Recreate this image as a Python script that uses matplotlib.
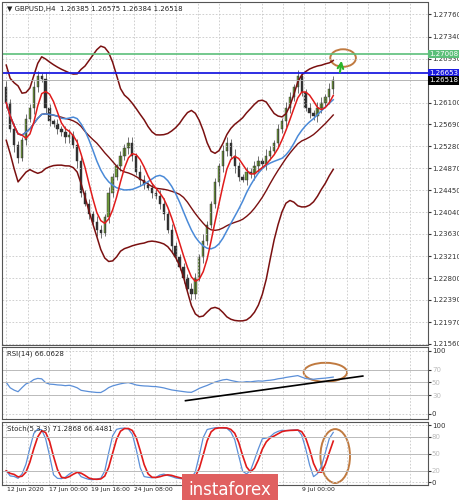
import numpy as np
import pandas as pd
import matplotlib
matplotlib.use("Agg")
import matplotlib.pyplot as plt
from matplotlib.patches import Ellipse, Rectangle

# GBPUSD H4 closes
closes = [1.2610, 1.2560, 1.2530, 1.2505, 1.2540, 1.2580, 1.2600, 1.2640, 1.2660, 1.2655,
          1.2600, 1.2575, 1.2570, 1.2560, 1.2555, 1.2545, 1.2550, 1.2530, 1.2500, 1.2440,
          1.2420, 1.2400, 1.2385, 1.2370, 1.2365, 1.2395, 1.2440, 1.2470, 1.2490, 1.2510,
          1.2525, 1.2535, 1.2510, 1.2480, 1.2465, 1.2455, 1.2450, 1.2440, 1.2435, 1.2420,
          1.2400, 1.2370, 1.2340, 1.2320, 1.2300, 1.2280, 1.2260, 1.2250, 1.2280, 1.2320,
          1.2350, 1.2380, 1.2420, 1.2460, 1.2490, 1.2520, 1.2535, 1.2510, 1.2490, 1.2470,
          1.2465, 1.2480, 1.2475, 1.2490, 1.2500, 1.2495, 1.2510, 1.2520, 1.2535, 1.2560,
          1.2575, 1.2600, 1.2620, 1.2640, 1.2660, 1.2630, 1.2600, 1.2590, 1.2585, 1.2600,
          1.2610, 1.2620, 1.2635, 1.2652]
first_open = 1.2640
wicks = [0.0010, 0.0006, 0.0012, 0.0008, 0.0005, 0.0009, 0.0007, 0.0011]

price_ticks = [1.27760, 1.27340, 1.26930, 1.26100, 1.25690, 1.25280, 1.24870, 1.24450,
               1.24040, 1.23630, 1.23210, 1.22800, 1.22390, 1.21970, 1.21560]
resistance = 1.27008
level = 1.26653
last_price = 1.26518
date_pos = [0.3, 10.8, 21.6, 32.4, 75]
date_labels = ["12 Jun 2020", "17 Jun 00:00", "19 Jun 16:00", "24 Jun 08:00", "9 Jul 00:00"]

c = pd.Series(closes)
o = pd.Series([first_open] + closes[:-1])
w = pd.Series([wicks[i % len(wicks)] for i in range(len(closes))])
hi = np.maximum(o, c) + w
lo = np.minimum(o, c) - w
x = np.arange(len(closes))

ma_fast = c.rolling(5, min_periods=1).mean()
ma_slow = c.rolling(14, min_periods=1).mean()
mid = c.rolling(20, min_periods=1).mean()
sd = c.rolling(20, min_periods=2).std().bfill()
upper = mid + 2 * sd
lower = mid - 2 * sd

d = c.diff().fillna(0)
up = d.clip(lower=0).ewm(alpha=1 / 30, adjust=False).mean() + 0.0004
dn = (-d.clip(upper=0)).ewm(alpha=1 / 30, adjust=False).mean() + 0.0004
rsi = 100 - 100 / (1 + up / dn)
ll = lo.rolling(5, min_periods=1).min()
hh = hi.rolling(5, min_periods=1).max()
k = 100 * (c - ll).rolling(3, min_periods=1).sum() / (hh - ll).rolling(3, min_periods=1).sum()
dline = k.rolling(3, min_periods=1).mean()

XMAX = 107
FS = 5
fig = plt.figure(figsize=(4.6, 5.0), dpi=100)
ax = fig.add_axes([0.005, 0.31, 0.925, 0.685])
ax2 = fig.add_axes([0.005, 0.162, 0.925, 0.144])
ax3 = fig.add_axes([0.005, 0.03, 0.925, 0.126])
vgrid = np.arange(0, XMAX, 5.4)

for a in (ax, ax2, ax3):
    a.set_xlim(-1, XMAX)
    a.set_xticks(vgrid)
    a.grid(True, color="#c8c8c8", linestyle=(0, (2, 2)), linewidth=0.6)
    a.yaxis.tick_right()
    a.tick_params(labelsize=FS, length=2, pad=1, colors="#333")
    a.tick_params(axis="x", labelbottom=False, length=0)
    for s in a.spines.values():
        s.set_color("#555")
        s.set_linewidth(0.8)

# candles
for i in x:
    col = "#6f9b3a" if c[i] >= o[i] else "#2e2e2e"
    ax.vlines(i, lo[i], hi[i], color="#3a3a3a", linewidth=0.5)
    ax.add_patch(Rectangle((i - 0.3, min(o[i], c[i])), 0.6, max(abs(c[i] - o[i]), 0.0002),
                           facecolor=col, edgecolor="#2e2e2e", linewidth=0.3))
ax.plot(x, upper, color="#7a1010", lw=1.1)
ax.plot(x, lower, color="#7a1010", lw=1.1)
ax.plot(x, mid, color="#7a1010", lw=1.0)
ax.plot(x, ma_slow, color="#4a8ad8", lw=1.1)
ax.plot(x, ma_fast, color="#e01b1b", lw=1.1)

ax.axhline(resistance, color="#5cbf7a", lw=1.2)
ax.axhline(level, color="#1c1ce0", lw=1.3)
ax.axhline(last_price, color="#aaaaaa", lw=0.6)
ax.set_ylim(1.21540, 1.27985)
ax.set_yticks(price_ticks)
ax.set_yticklabels([f"{t:.5f}" for t in price_ticks])
for val, fc, tc in [(resistance, "#5cbf7a", "white"), (level, "#1c1ce0", "white"), (last_price, "black", "white")]:
    ax.text(1.004, val, f"{val:.5f}", transform=ax.get_yaxis_transform(), fontsize=FS, va="center",
            ha="left", color=tc, bbox=dict(boxstyle="square,pad=0.15", fc=fc, ec="none"), clip_on=False)
ax.add_patch(Ellipse((85.5, 1.2694), 6.5, 0.0033, fill=False, ec="#c07a40", lw=1.4))
ax.annotate("", xy=(85.2, 1.2694), xytext=(84.6, 1.2662),
            arrowprops=dict(arrowstyle="->", color="#2bb52b", lw=1.5))
ax.text(0.01, 0.99, "▼ GBPUSD,H4  1.26385 1.26575 1.26384 1.26518", transform=ax.transAxes,
        fontsize=FS, va="top", color="#222")

# RSI
ax2.plot(x, rsi, color="#5b8fd8", lw=0.9)
for lv in (30, 50, 70):
    ax2.axhline(lv, color="#bbbbbb", lw=0.7)
ax2.plot([45.5, 90.5], [21, 60], color="black", lw=1.2)
ax2.add_patch(Ellipse((81, 66), 11, 30, fill=False, ec="#c07a40", lw=1.4))
ax2.set_ylim(-8, 106)
ax2.set_yticks([0, 30, 50, 70, 100])
ax2.set_yticklabels(["0", "30", "50", "70", "100"])
for t in ax2.get_yticklabels()[1:4]:
    t.set_color("#bbbbbb")
ax2.text(0.01, 0.95, "RSI(14) 66.0628", transform=ax2.transAxes, fontsize=FS, va="top", color="#222")

# Stochastic
ax3.plot(x, k, color="#5b8fd8", lw=0.9)
ax3.plot(x, dline, color="#e01b1b", lw=1.2)
for lv in (20, 50, 80):
    ax3.axhline(lv, color="#bbbbbb", lw=0.7)
ax3.add_patch(Ellipse((83.5, 46), 7.5, 95, fill=False, ec="#c07a40", lw=1.4))
ax3.set_ylim(-5, 106)
ax3.set_yticks([0, 20, 50, 80, 100])
ax3.set_yticklabels(["0", "20", "50", "80", "100"])
for t in ax3.get_yticklabels()[1:4]:
    t.set_color("#bbbbbb")
ax3.text(0.01, 0.95, "Stoch(5,3,3) 71.2868 66.4481", transform=ax3.transAxes, fontsize=FS, va="top", color="#222")
for p, lab in zip(date_pos, date_labels):
    ax3.text(p, -0.03, lab, transform=ax3.get_xaxis_transform(), fontsize=4.4, va="top", ha="left", color="#222")

fig.text(0.50, 0.02, "instaforex", fontsize=12, color="white", ha="center", va="center",
         bbox=dict(boxstyle="square,pad=0.4", fc="#e06060", ec="none"))
fig.savefig("out.png", dpi=100)
